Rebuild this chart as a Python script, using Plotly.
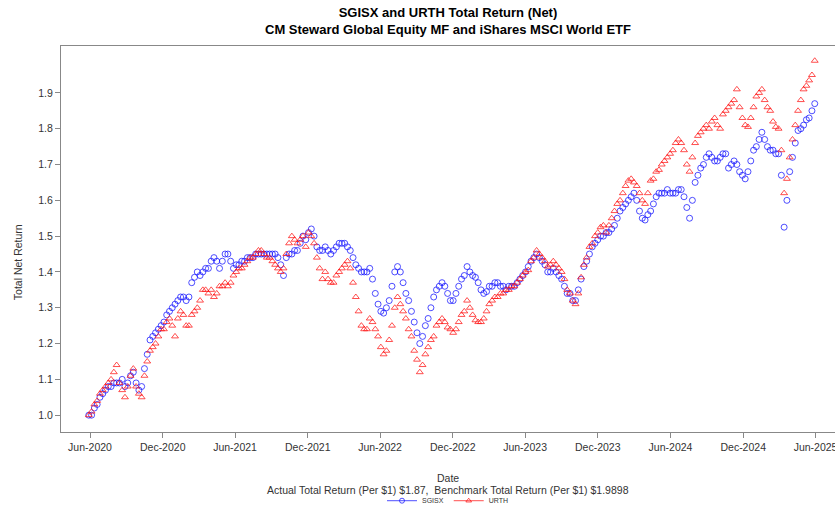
import pandas as pd
import plotly.graph_objects as go

# Weekly (Friday) readings of the total net return, 2020-05-29 .. 2025-05-30
dates = pd.date_range("2020-05-29", "2025-05-30", freq="W-FRI")

sgisx = [
    1.00,
    1.00, 1.02, 1.03, 1.05,                      # Jun 2020
    1.06, 1.07, 1.08, 1.08, 1.09,                # Jul
    1.09, 1.09, 1.10, 1.08,                      # Aug
    1.09, 1.11, 1.12, 1.09,                      # Sep
    1.07, 1.08, 1.13, 1.17, 1.21,                # Oct
    1.22, 1.23, 1.24, 1.25,                      # Nov
    1.26, 1.28, 1.29, 1.30,                      # Dec
    1.31, 1.32, 1.33, 1.33, 1.32,                # Jan 2021
    1.33, 1.37, 1.385, 1.40,                     # Feb
    1.39, 1.40, 1.41, 1.41,                      # Mar
    1.43, 1.44, 1.43, 1.41, 1.43,                # Apr
    1.45, 1.45, 1.43, 1.41,                      # May
    1.42, 1.42, 1.43, 1.43,                      # Jun
    1.44, 1.44, 1.44, 1.45, 1.45,                # Jul
    1.45, 1.45, 1.45, 1.45,                      # Aug
    1.45, 1.45, 1.44, 1.42,                      # Sep
    1.39, 1.44, 1.45, 1.45, 1.46,                # Oct
    1.46, 1.48, 1.50, 1.49,                      # Nov
    1.51, 1.52, 1.50, 1.47, 1.46,                # Dec
    1.46, 1.47, 1.46, 1.45,                      # Jan 2022
    1.46, 1.47, 1.48, 1.48,                      # Feb
    1.48, 1.47, 1.46, 1.44,                      # Mar
    1.42, 1.41, 1.40, 1.40, 1.40,                # Apr
    1.41, 1.38, 1.34, 1.31,                      # May
    1.29, 1.285, 1.30, 1.32,                     # Jun
    1.36, 1.40, 1.415, 1.40, 1.37,               # Jul
    1.34, 1.32, 1.29, 1.26,                      # Aug
    1.23, 1.20, 1.22, 1.25, 1.27,                # Sep
    1.30, 1.33, 1.35, 1.36,                      # Oct
    1.37, 1.36, 1.34, 1.32,                      # Nov
    1.32, 1.34, 1.36, 1.38, 1.39,                # Dec
    1.415, 1.40, 1.39, 1.385,                    # Jan 2023
    1.37, 1.35, 1.34, 1.345,                     # Feb
    1.36, 1.36, 1.37, 1.37, 1.36,                # Mar
    1.36, 1.35, 1.36, 1.36,                      # Apr
    1.36, 1.37, 1.38, 1.39,                      # May
    1.40, 1.415, 1.43, 1.44, 1.45,               # Jun
    1.44, 1.43, 1.42, 1.40,                      # Jul
    1.40, 1.41, 1.40, 1.39,                      # Aug
    1.38, 1.36, 1.34, 1.34, 1.32,                # Sep
    1.32, 1.35, 1.38, 1.415,                     # Oct
    1.43, 1.45, 1.47, 1.48,                      # Nov
    1.49, 1.50, 1.50, 1.51, 1.51,                # Dec
    1.52, 1.53, 1.55, 1.57,                      # Jan 2024
    1.58, 1.59, 1.60, 1.61,                      # Feb
    1.62, 1.60, 1.57, 1.55, 1.545,               # Mar
    1.56, 1.57, 1.59, 1.61,                      # Apr
    1.62, 1.62, 1.62, 1.63, 1.62,                # May
    1.62, 1.62, 1.63, 1.63,                      # Jun
    1.61, 1.58, 1.55, 1.60,                      # Jul
    1.65, 1.67, 1.69, 1.70, 1.72,                # Aug
    1.73, 1.72, 1.71, 1.71,                      # Sep
    1.72, 1.73, 1.73, 1.69,                      # Oct
    1.70, 1.71, 1.70, 1.68, 1.67,                # Nov
    1.66, 1.68, 1.71, 1.74,                      # Dec
    1.75, 1.77, 1.79, 1.77, 1.75,                # Jan 2025
    1.74, 1.74, 1.73, 1.73,                      # Feb
    1.67, 1.525, 1.60, 1.68,                     # Mar
    1.72, 1.76, 1.795, 1.80,                     # Apr
    1.81, 1.825, 1.83, 1.85, 1.87,               # May
]

urth = [
    1.00,
    1.01, 1.03, 1.04, 1.06,                      # Jun 2020
    1.07, 1.08, 1.09, 1.10, 1.12,                # Jul
    1.14, 1.09, 1.07, 1.05,                      # Aug
    1.08, 1.11, 1.13, 1.08,                      # Sep
    1.06, 1.05, 1.11, 1.15, 1.18,                # Oct
    1.19, 1.20, 1.22, 1.24,                      # Nov
    1.24, 1.26, 1.27, 1.25,                      # Dec
    1.22, 1.27, 1.29, 1.28, 1.25,                # Jan 2021
    1.25, 1.28, 1.29, 1.30,                      # Feb
    1.32, 1.35, 1.35, 1.34,                      # Mar
    1.35, 1.33, 1.34, 1.36, 1.36,                # Apr
    1.37, 1.36, 1.37, 1.39,                      # May
    1.40, 1.41, 1.41, 1.42,                      # Jun
    1.43, 1.44, 1.44, 1.45, 1.46,                # Jul
    1.46, 1.45, 1.44, 1.44,                      # Aug
    1.43, 1.42, 1.41, 1.40,                      # Sep
    1.41, 1.45, 1.48, 1.50, 1.49,                # Oct
    1.48, 1.49, 1.50, 1.47,                      # Nov
    1.51, 1.50, 1.48, 1.44, 1.41,                # Dec
    1.38, 1.40, 1.38, 1.37,                      # Jan 2022
    1.37, 1.39, 1.40, 1.41,                      # Feb
    1.42, 1.43, 1.41, 1.37,                      # Mar
    1.33, 1.29, 1.25, 1.24, 1.24,                # Apr
    1.27, 1.26, 1.24, 1.22,                      # May
    1.19, 1.17, 1.18, 1.21,                      # Jun
    1.25, 1.30, 1.33, 1.31, 1.29,                # Jul
    1.27, 1.24, 1.22, 1.18,                      # Aug
    1.155, 1.12, 1.14, 1.17, 1.19,               # Sep
    1.21, 1.22, 1.25, 1.26,                      # Oct
    1.27, 1.26, 1.245, 1.24,                     # Nov
    1.23, 1.24, 1.26, 1.28, 1.29,                # Dec
    1.32, 1.30, 1.28, 1.265,                     # Jan 2023
    1.26, 1.26, 1.27, 1.29,                      # Feb
    1.31, 1.32, 1.33, 1.33, 1.34,                # Mar
    1.34, 1.35, 1.35, 1.36,                      # Apr
    1.36, 1.37, 1.38, 1.39,                      # May
    1.40, 1.405, 1.43, 1.44, 1.46,               # Jun
    1.45, 1.44, 1.43, 1.415,                     # Jul
    1.42, 1.43, 1.42, 1.41,                      # Aug
    1.40, 1.38, 1.35, 1.34, 1.32,                # Sep
    1.31, 1.34, 1.385, 1.42,                     # Oct
    1.44, 1.47, 1.48, 1.50,                      # Nov
    1.51, 1.525, 1.53, 1.51, 1.53,               # Dec
    1.55, 1.57, 1.59, 1.60,                      # Jan 2024
    1.62, 1.64, 1.655, 1.66,                     # Feb
    1.65, 1.64, 1.62, 1.60, 1.59,                # Mar
    1.62, 1.655, 1.66, 1.68,                     # Apr
    1.685, 1.70, 1.71, 1.72, 1.73,               # May
    1.74, 1.76, 1.77, 1.76,                      # Jun
    1.74, 1.70, 1.68, 1.72,                      # Jul
    1.76, 1.78, 1.79, 1.80, 1.81,                # Aug
    1.80, 1.82, 1.83, 1.81,                      # Sep
    1.80, 1.84, 1.85, 1.86,                      # Oct
    1.87, 1.88, 1.91, 1.86, 1.83,                # Nov
    1.81, 1.805, 1.83, 1.86,                     # Dec
    1.89, 1.90, 1.91, 1.88, 1.86,                # Jan 2025
    1.85, 1.82, 1.805, 1.80,                     # Feb
    1.74, 1.62, 1.66, 1.72,                      # Mar
    1.77, 1.81, 1.85, 1.88,                      # Apr
    1.91, 1.92, 1.935, 1.95, 1.9898,             # May
]

tick_dates = pd.date_range("2020-06-01", "2025-06-01", freq="6MS")
y_ticks = [1.0, 1.1, 1.2, 1.3, 1.4, 1.5, 1.6, 1.7, 1.8, 1.9]

FONT = "Liberation Sans"
BLUE = "rgba(20,20,255,0.75)"
RED = "rgba(255,20,20,0.75)"

fig = go.Figure()

fig.add_trace(go.Scatter(x=dates, y=sgisx, mode="markers", name="SGISX", showlegend=False,
                         marker=dict(symbol="circle-open", size=6, color=BLUE, line=dict(width=1))))
fig.add_trace(go.Scatter(x=dates, y=urth, mode="markers", name="URTH", showlegend=False,
                         marker=dict(symbol="triangle-up-open", size=6, color=RED, line=dict(width=1))))

# legend entries drawn as line + marker, like the original
fig.add_trace(go.Scatter(x=[None], y=[None], mode="lines+markers", name="SGISX",
                         line=dict(color=BLUE, width=1),
                         marker=dict(symbol="circle-open", size=5, color=BLUE)))
fig.add_trace(go.Scatter(x=[None], y=[None], mode="lines+markers", name="URTH",
                         line=dict(color=RED, width=1),
                         marker=dict(symbol="triangle-up-open", size=5, color=RED)))

fig.update_layout(
    width=835, height=508,
    margin=dict(l=61, r=0, t=46, b=76, autoexpand=False),
    paper_bgcolor="white", plot_bgcolor="white",
    font=dict(family=FONT, size=10, color="#333333"),
    title=dict(text="<b>SGISX and URTH Total Return (Net)</b><br><b>CM Steward Global Equity MF and iShares MSCI World ETF</b>",
               x=0.5, xref="paper", xanchor="center", y=0.967, yanchor="top",
               font=dict(family=FONT, size=13, color="black")),
    legend=dict(orientation="h", x=0.5, xanchor="center", y=-0.178, yanchor="middle",
                font=dict(size=7), itemwidth=30, tracegroupgap=0, bgcolor="rgba(0,0,0,0)"),
    showlegend=True,
)

fig.update_xaxes(range=["2020-03-20", "2025-07-20"], tickvals=tick_dates, tickformat="%b-%Y",
                 ticks="outside", ticklen=5, tickcolor="#888888", showgrid=False, zeroline=False,
                 showline=True, linecolor="#888888", linewidth=1, mirror=True,
                 tickfont=dict(size=10.5), automargin=False, ticklabeloverflow="allow")
fig.update_yaxes(range=[0.953, 2.031], tickvals=y_ticks,
                 tickformat=".1f", ticks="outside", ticklen=5, tickcolor="#888888", showgrid=False,
                 zeroline=False, showline=True, linecolor="#888888", linewidth=1, mirror=True,
                 tickfont=dict(size=10.5), automargin=False)

fig.add_annotation(text="Total Net Return", xref="paper", yref="paper", x=0, y=0.44, xshift=-43,
                   xanchor="center", yanchor="middle", textangle=-90, showarrow=False,
                   font=dict(size=10.5))
fig.add_annotation(text="Date", xref="paper", yref="paper", x=0.5, y=0, yshift=-46,
                   yanchor="middle", showarrow=False, font=dict(size=10.5))
fig.add_annotation(text="Actual Total Return (Per $1) $1.87,  Benchmark Total Return (Per $1) $1.9898",
                   xref="paper", yref="paper", x=0.5, y=0, yshift=-58, yanchor="middle",
                   showarrow=False, font=dict(size=10.5))

fig.write_html("out.html", config={"displayModeBar": False},
               post_script="document.body.style.margin='0';")
